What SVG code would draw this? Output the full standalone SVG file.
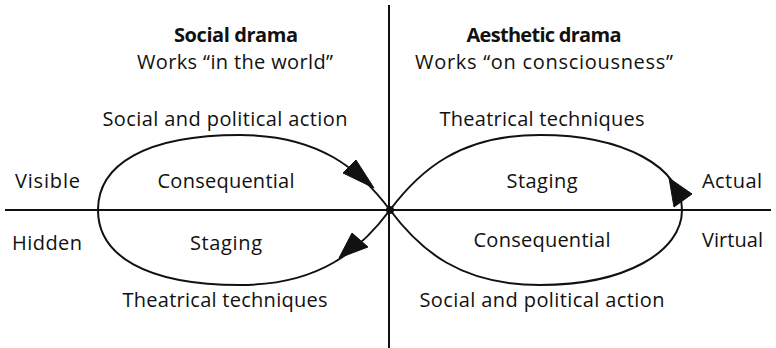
<svg xmlns="http://www.w3.org/2000/svg" width="776" height="348" viewBox="0 0 776 348">
<style>
text{font-family:"Open Sans","Noto Sans","Liberation Sans",sans-serif;font-size:20px;fill:#111;}
.b{font-weight:bold;}
.m{text-anchor:middle;}
.ln{stroke:#111;stroke-width:2;fill:none;}
.ar{fill:#111;stroke:#111;stroke-width:1;stroke-linejoin:round;}
</style>
<rect width="776" height="348" fill="#fff"/>
<g id="axes">
<line class="ln" x1="389" y1="5" x2="389" y2="348"/>
<line class="ln" x1="5" y1="210" x2="771" y2="210"/>
</g>
<g id="connectors">
<path id="left-loop" class="ln" d="M390,210 C360,170 320,135 240,135 C145,135 98,165 98,210 C98,255 145,285 240,285 C320,285 360,250 390,210"/>
<path id="right-loop" class="ln" d="M390,210 C420,170 460,135 540,135 C625,135 682,168 682,210 C682,252 625,285 540,285 C460,285 420,250 390,210"/>
<polygon class="ar" points="374,188 343,173 356,160"/>
<polygon class="ar" points="339,258 352,233 368,247"/>
<polygon class="ar" points="669,178 692,194 674,207"/>
<circle cx="390" cy="210" r="4" fill="#111"/>
</g>
<g id="headers">
<text class="b m" x="236" y="42" textLength="124">Social drama</text>
<text class="m" x="235" y="69" textLength="196">Works “in the world”</text>
<text class="b m" x="544" y="42" textLength="155">Aesthetic drama</text>
<text class="m" x="544" y="69" textLength="258">Works “on consciousness”</text>
</g>
<g id="left-labels">
<text class="m" x="225" y="126" textLength="245">Social and political action</text>
<text x="15" y="188" textLength="65">Visible</text>
<text class="m" x="226" y="188" textLength="137">Consequential</text>
<text x="12" y="250" textLength="70">Hidden</text>
<text class="m" x="226" y="250" textLength="72">Staging</text>
<text class="m" x="225" y="307" textLength="205">Theatrical techniques</text>
</g>
<g id="right-labels">
<text class="m" x="542" y="126" textLength="205">Theatrical techniques</text>
<text class="m" x="542" y="188" textLength="71">Staging</text>
<text x="702" y="188" textLength="60">Actual</text>
<text class="m" x="542" y="247" textLength="137">Consequential</text>
<text x="702" y="247" textLength="61">Virtual</text>
<text class="m" x="542" y="307" textLength="245">Social and political action</text>
</g>
</svg>
